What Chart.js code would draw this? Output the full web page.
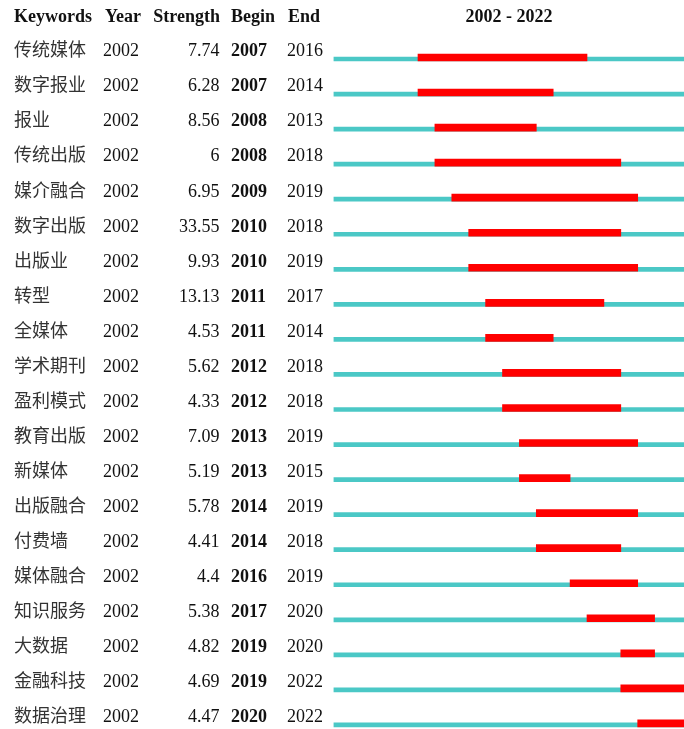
<!DOCTYPE html>
<html>
<head>
<meta charset="utf-8">
<script src="https://cdn.jsdelivr.net/npm/chart.js@4"></script>
<style>
html,body{margin:0;padding:0;overflow:hidden;background:#fff;width:684px;height:729px;}
#wrap{position:absolute;left:0;top:0;width:690px;height:746px;}
</style>
</head>
<body>
<div id="wrap"><canvas id="c" width="690" height="746"></canvas></div>
<script>
const keywords = ['传统媒体','数字报业','报业','传统出版','媒介融合','数字出版','出版业','转型','全媒体','学术期刊','盈利模式','教育出版','新媒体','出版融合','付费墙','媒体融合','知识服务','大数据','金融科技','数据治理'];
const years = [2002,2002,2002,2002,2002,2002,2002,2002,2002,2002,2002,2002,2002,2002,2002,2002,2002,2002,2002,2002];
const strengths = ['7.74','6.28','8.56','6','6.95','33.55','9.93','13.13','4.53','5.62','4.33','7.09','5.19','5.78','4.41','4.4','5.38','4.82','4.69','4.47'];
const begins = [2007,2007,2008,2008,2009,2010,2010,2011,2011,2012,2012,2013,2013,2014,2014,2016,2017,2019,2019,2020];
const ends = [2016,2014,2013,2018,2019,2018,2019,2017,2014,2018,2018,2019,2015,2019,2018,2019,2020,2020,2022,2022];
const headers = ['Keywords','Year','Strength','Begin','End'];
const rangeStart = 2002, rangeEnd = 2022;

const teal = '#4BC8C6', red = '#FF0000';
const redShift = 0.043;

const redData = keywords.map((k,i)=>({x:[begins[i], ends[i]+1], y:i - redShift}));
const tealData = keywords.map((k,i)=>({x:[rangeStart, rangeEnd+1], y:i}));

const textPlugin = {
  id:'tableText',
  afterDraw(chart){
    const ctx = chart.ctx;
    const ys = chart.scales.y;
    ctx.save();
    ctx.fillStyle = '#111';
    ctx.textBaseline = 'alphabetic';
    const serif = '"Liberation Serif","Times New Roman",serif';
    ctx.font = 'bold 18px ' + serif;
    ctx.textAlign = 'left';
    ctx.fillText(headers[0], 14, 22);
    ctx.fillText(headers[1], 105, 22);
    ctx.textAlign = 'right';
    ctx.fillText(headers[2], 220, 22);
    ctx.textAlign = 'left';
    ctx.fillText(headers[3], 231, 22);
    ctx.fillText(headers[4], 288, 22);
    ctx.textAlign = 'center';
    ctx.fillText(rangeStart + ' - ' + rangeEnd, 509, 22);
    keywords.forEach((k,i)=>{
      const base = ys.getPixelForValue(i) - 2.7;
      ctx.textAlign = 'left';
      ctx.font = '18px "Noto Sans CJK SC",sans-serif';
      ctx.fillStyle = '#333';
      ctx.fillText(k, 14, base);
      ctx.fillStyle = '#111';
      ctx.font = '18px ' + serif;
      ctx.fillText(String(years[i]), 103, base);
      ctx.textAlign = 'right';
      ctx.fillText(strengths[i], 219.5, base);
      ctx.textAlign = 'left';
      ctx.font = 'bold 18px ' + serif;
      ctx.fillText(String(begins[i]), 231, base);
      ctx.font = '18px ' + serif;
      ctx.fillText(String(ends[i]), 287, base);
    });
    ctx.restore();
  }
};

const pxPerYear = 16.9;
const padLeft = 333.5;
const padRight = 690 - (padLeft + 21*pxPerYear);
const rowH = 35.05;
const padTop = 59 - rowH/2;
const padBottom = 746 - (padTop + 20*rowH);

new Chart(document.getElementById('c'), {
  type:'bar',
  data:{
    datasets:[
      {label:'burst', data:redData, backgroundColor:red, barThickness:7, order:0, grouped:false},
      {label:'range', data:tealData, backgroundColor:teal, barThickness:4, order:1, grouped:false}
    ]
  },
  options:{
    indexAxis:'y',
    responsive:false,
    devicePixelRatio:1,
    animation:false,
    layout:{padding:{left:padLeft, right:padRight, top:padTop, bottom:padBottom}},
    plugins:{legend:{display:false}, tooltip:{enabled:false}},
    scales:{
      x:{type:'linear', min:rangeStart, max:rangeEnd+1, display:false, offset:false},
      y:{type:'linear', min:-0.5, max:19.5, reverse:true, display:false, offset:false}
    }
  },
  plugins:[textPlugin]
});
</script>
</body>
</html>
